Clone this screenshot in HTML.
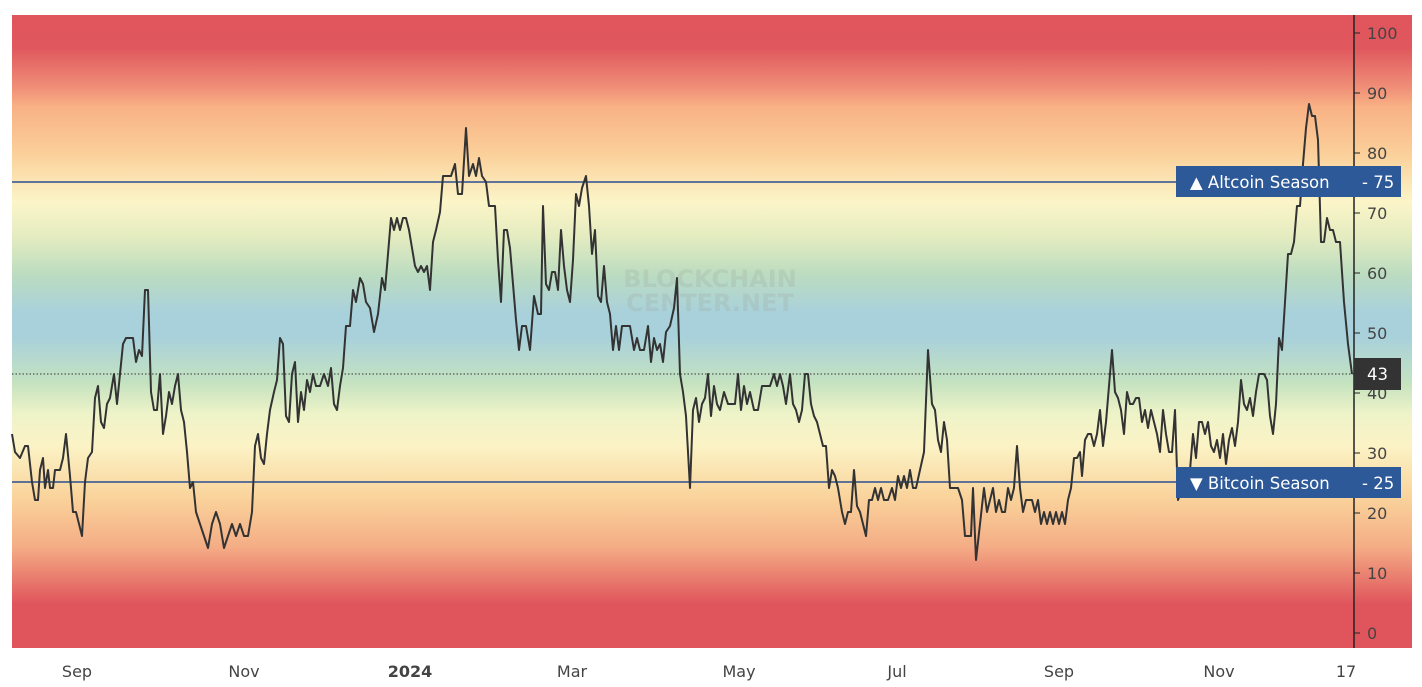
<!DOCTYPE html>
<html><head><meta charset="utf-8"><style>
body{margin:0;background:#fff;width:1422px;height:682px;overflow:hidden}
svg text{font-family:"DejaVu Sans","Liberation Sans",sans-serif}
</style></head><body>
<svg width="1422" height="682" viewBox="0 0 1422 682" xmlns="http://www.w3.org/2000/svg">
<defs>
<linearGradient id="bg" gradientUnits="userSpaceOnUse" x1="0" y1="15" x2="0" y2="648">
<stop offset="0" stop-color="#e0555c"/>
<stop offset="0.052" stop-color="#e0575d"/>
<stop offset="0.116" stop-color="#f09078"/>
<stop offset="0.145" stop-color="#f8b184"/>
<stop offset="0.22" stop-color="#fbd09a"/>
<stop offset="0.296" stop-color="#fbf5c8"/>
<stop offset="0.35" stop-color="#e4ecc0"/>
<stop offset="0.41" stop-color="#bcdcc0"/>
<stop offset="0.47" stop-color="#a9d1db"/>
<stop offset="0.51" stop-color="#a9d1db"/>
<stop offset="0.58" stop-color="#c4e2c0"/>
<stop offset="0.63" stop-color="#eef3c8"/>
<stop offset="0.68" stop-color="#fbf3c6"/>
<stop offset="0.76" stop-color="#fad49c"/>
<stop offset="0.84" stop-color="#f4ad85"/>
<stop offset="0.93" stop-color="#e0555c"/>
<stop offset="1" stop-color="#e0555c"/>
</linearGradient>
</defs>
<rect x="12" y="15" width="1400" height="633" fill="url(#bg)"/>
<text x="710" y="287" font-size="24" font-weight="bold" fill="#9aa8a0" fill-opacity="0.25" text-anchor="middle">BLOCKCHAIN</text>
<text x="710" y="311" font-size="24" font-weight="bold" fill="#9aa8a0" fill-opacity="0.25" text-anchor="middle">CENTER.NET</text>
<line x1="12" y1="182" x2="1354" y2="182" stroke="#2a4f8f" stroke-width="1.5"/>
<line x1="12" y1="482" x2="1354" y2="482" stroke="#2a4f8f" stroke-width="1.5"/>
<line x1="12" y1="374" x2="1354" y2="374" stroke="#333" stroke-width="1" stroke-dasharray="1.5,2"/>
<polyline fill="none" stroke="#333" stroke-width="2" stroke-linejoin="round" points="
12,434 15,452 20,458 25,446 28,446 32,482 35,500 38,500 40,470 43,458 45,488 48,470 50,488 53,488 55,470 60,470 63,458 66,434 70,476 73,512 76,512 79,524 82,536 85,482 88,458 92,452 95,398 98,386 101,422 104,428 107,404 110,398 114,374 117,404 120,374 123,344 126,338 133,338 136,362 139,350 142,356 145,290 148,290 151,392 154,410 157,410 160,374 163,434 166,416 169,392 172,404 175,386 178,374 181,410 184,422 187,452 190,488 193,482 196,512 200,524 204,536 208,548 212,524 216,512 220,524 224,548 228,536 232,524 236,536 240,524 244,536 248,536 252,512 255,446 258,434 261,458 264,464 267,434 270,410 274,392 277,380 280,338 283,344 286,416 289,422 292,374 295,362 298,422 301,392 304,410 307,380 310,392 313,374 316,386 320,386 324,374 328,386 331,368 334,404 337,410 340,386 343,368 346,326 350,326 353,290 356,302 360,278 363,284 366,302 370,308 374,332 378,314 382,278 385,290 388,254 391,218 394,230 397,218 400,230 403,218 406,218 409,230 412,248 415,266 418,272 421,266 424,272 427,266 430,290 433,242 436,230 440,212 443,176 447,176 451,176 455,164 458,194 462,194 466,128 469,176 473,164 476,176 479,158 482,176 486,182 489,206 492,206 495,206 498,260 501,302 504,230 507,230 510,248 513,284 516,320 519,350 522,326 526,326 530,350 534,296 538,314 541,314 543,206 546,284 549,290 552,272 555,272 558,290 561,230 564,266 567,290 570,302 573,260 576,194 579,206 582,188 586,176 589,206 592,254 595,230 598,296 601,302 604,266 607,302 610,314 613,350 616,326 619,350 622,326 626,326 630,326 634,350 637,338 640,350 644,350 648,326 651,362 654,338 657,350 660,344 663,362 666,332 670,326 674,308 677,278 680,374 683,392 686,416 690,488 693,410 696,398 699,422 702,404 705,398 708,374 711,416 714,386 717,404 720,410 724,392 728,404 732,404 735,404 738,374 741,410 744,386 747,404 750,392 754,410 758,410 762,386 766,386 770,386 774,374 777,386 780,374 783,386 786,404 790,374 793,404 796,410 799,422 802,410 805,374 808,374 811,404 814,416 817,422 820,434 823,446 826,446 829,488 832,470 835,476 838,488 842,512 845,524 848,512 851,512 854,470 857,506 860,512 863,524 866,536 869,500 872,500 875,488 878,500 881,488 884,500 888,500 892,488 895,500 898,476 901,488 904,476 907,488 910,470 913,488 916,488 920,470 924,452 928,350 932,404 935,410 938,440 941,452 944,422 947,440 950,488 954,488 958,488 962,500 965,536 968,536 971,536 973,488 976,560 980,524 984,488 987,512 990,500 993,488 996,512 999,500 1002,512 1005,512 1008,488 1011,500 1014,488 1017,446 1020,488 1023,512 1026,500 1029,500 1032,500 1035,512 1038,500 1041,524 1044,512 1047,524 1050,512 1053,524 1056,512 1059,524 1062,512 1065,524 1068,500 1071,488 1074,458 1077,458 1080,452 1082,476 1085,440 1088,434 1091,434 1094,446 1097,434 1100,410 1103,446 1106,422 1109,386 1112,350 1115,392 1118,398 1121,410 1124,434 1127,392 1130,404 1133,404 1136,398 1139,398 1142,422 1145,410 1148,428 1151,410 1154,422 1157,434 1160,452 1163,410 1166,434 1169,452 1172,452 1175,410 1178,500 1182,488 1186,488 1190,470 1193,434 1196,458 1199,422 1202,422 1205,434 1208,422 1211,446 1214,452 1217,440 1220,458 1223,434 1226,464 1229,440 1232,428 1235,446 1238,422 1241,380 1244,404 1247,410 1250,398 1253,416 1256,392 1259,374 1264,374 1267,380 1270,416 1273,434 1276,404 1279,338 1282,350 1285,302 1288,254 1291,254 1294,242 1297,206 1300,206 1303,164 1306,128 1309,104 1312,116 1315,116 1318,140 1321,242 1324,242 1327,218 1330,230 1333,230 1336,242 1340,242 1344,302 1348,344 1352,374"/>
<line x1="1354" y1="15" x2="1354" y2="648" stroke="#222" stroke-width="1.5"/>
<g stroke="#222" stroke-width="1">
<line x1="1354" y1="33" x2="1360" y2="33"/><line x1="1354" y1="93" x2="1360" y2="93"/><line x1="1354" y1="153" x2="1360" y2="153"/><line x1="1354" y1="213" x2="1360" y2="213"/><line x1="1354" y1="273" x2="1360" y2="273"/><line x1="1354" y1="333" x2="1360" y2="333"/><line x1="1354" y1="393" x2="1360" y2="393"/><line x1="1354" y1="453" x2="1360" y2="453"/><line x1="1354" y1="513" x2="1360" y2="513"/><line x1="1354" y1="573" x2="1360" y2="573"/><line x1="1354" y1="633" x2="1360" y2="633"/>
</g>
<g font-size="16" fill="#444">
<text x="1367" y="39">100</text><text x="1367" y="99">90</text><text x="1367" y="159">80</text><text x="1367" y="219">70</text><text x="1367" y="279">60</text><text x="1367" y="339">50</text><text x="1367" y="399">40</text><text x="1367" y="459">30</text><text x="1367" y="519">20</text><text x="1367" y="579">10</text><text x="1367" y="639">0</text>
</g>
<rect x="1176" y="166" width="225" height="31" fill="#2d5998"/>
<text x="1190" y="188" font-size="16.5" fill="#fff">▲ Altcoin Season</text>
<text x="1362" y="188" font-size="16.5" fill="#fff">- 75</text>
<rect x="1176" y="467" width="225" height="31" fill="#2d5998"/>
<text x="1190" y="489" font-size="16.5" fill="#fff">▼ Bitcoin Season</text>
<text x="1362" y="489" font-size="16.5" fill="#fff">- 25</text>
<rect x="1354" y="358" width="47" height="32" fill="#333"/>
<text x="1367" y="380" font-size="16.5" fill="#fff">43</text>
<g font-size="16" fill="#444" text-anchor="middle">
<text x="77" y="677">Sep</text><text x="244" y="677">Nov</text><text x="410" y="677" font-weight="bold">2024</text><text x="572" y="677">Mar</text><text x="739" y="677">May</text><text x="897" y="677">Jul</text><text x="1059" y="677">Sep</text><text x="1219" y="677">Nov</text><text x="1346" y="677">17</text>
</g>
</svg>
</body></html>
